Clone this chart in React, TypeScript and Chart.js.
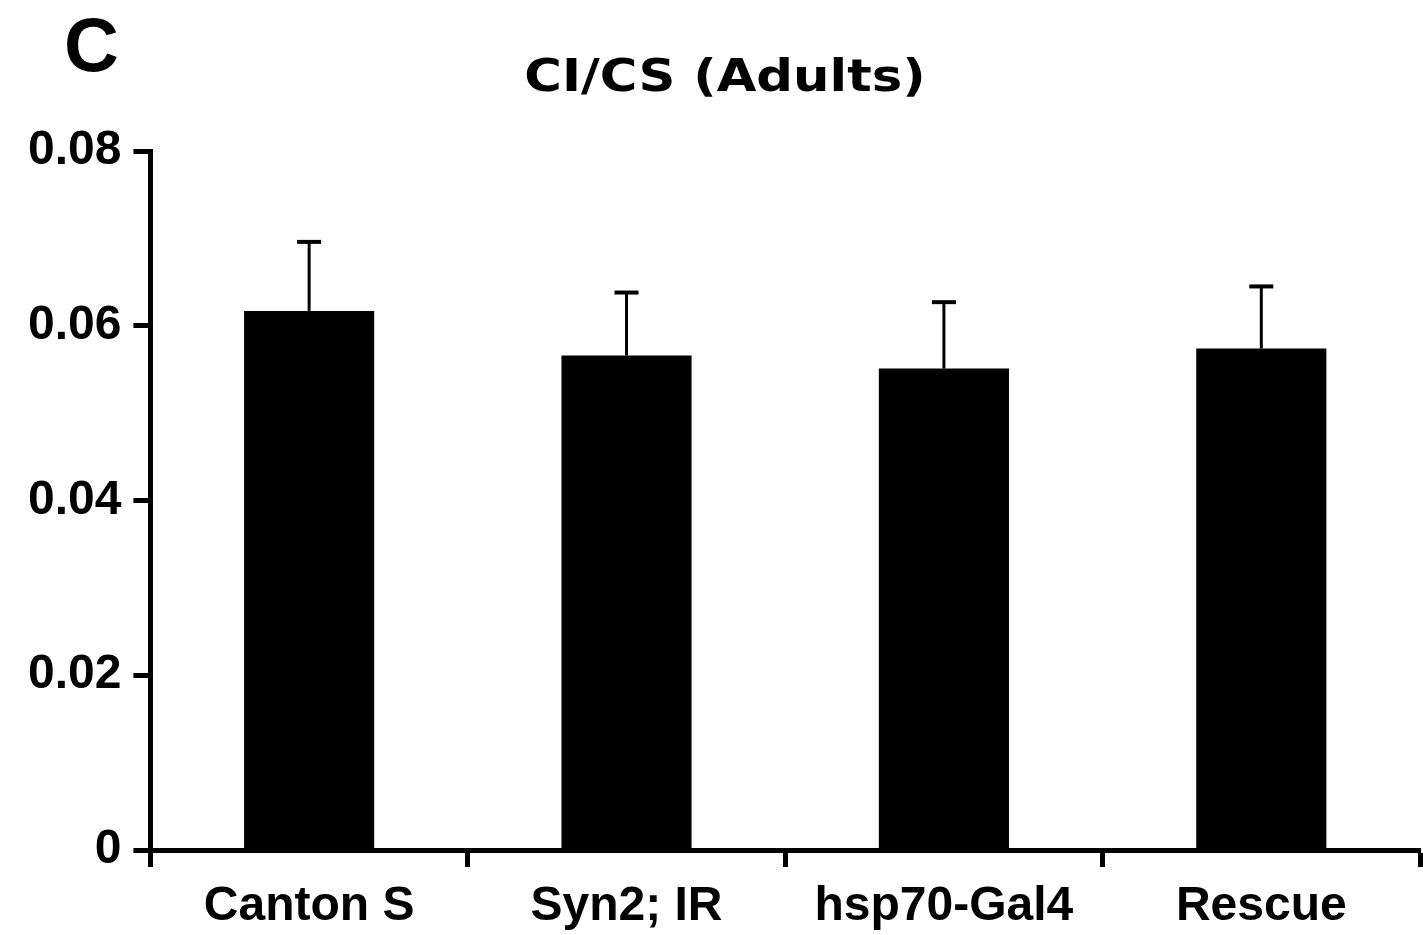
import React, { useEffect, useRef } from "react";
import { Chart, registerables } from "chart.js";

Chart.register(...registerables);

const categories = ["Canton S", "Syn2; IR", "hsp70-Gal4", "Rescue"];
const means = [0.0617, 0.0566, 0.0551, 0.0574];
const errorTops = [0.0696, 0.0638, 0.0627, 0.0645];
const yTickLabels = ["0", "0.02", "0.04", "0.06", "0.08"];
const titleText = "CI/CS (Adults)";
const panelLetter = "C";

const errorBarPlugin = {
  id: "errorBars",
  afterDatasetsDraw(chart: any) {
    const ctx = chart.ctx;
    const meta = chart.getDatasetMeta(0);
    const y = chart.scales.y;
    ctx.save();
    ctx.strokeStyle = "#000";
    meta.data.forEach((bar: any, i: number) => {
      const top = y.getPixelForValue(errorTops[i]);
      const base = y.getPixelForValue(means[i]);
      ctx.lineWidth = 3;
      ctx.beginPath();
      ctx.moveTo(bar.x, base);
      ctx.lineTo(bar.x, top);
      ctx.stroke();
      ctx.lineWidth = 4;
      ctx.beginPath();
      ctx.moveTo(bar.x - 12, top);
      ctx.lineTo(bar.x + 12, top);
      ctx.stroke();
    });
    ctx.restore();
  },
};

const textPlugin = {
  id: "panelText",
  afterDraw(chart: any) {
    const ctx = chart.ctx;
    ctx.save();
    ctx.fillStyle = "#000";
    ctx.textBaseline = "alphabetic";
    ctx.textAlign = "left";
    ctx.font = "bold 76px 'Liberation Sans', Arial, sans-serif";
    ctx.fillText(panelLetter, 64, 71);
    ctx.restore();
    ctx.save();
    ctx.fillStyle = "#000";
    ctx.textBaseline = "alphabetic";
    ctx.textAlign = "center";
    ctx.font = "bold 45px 'DejaVu Sans', Verdana, sans-serif";
    ctx.translate(725, 91);
    ctx.scale(1.14, 1);
    ctx.fillText(titleText, 0, 0);
    ctx.restore();
  },
};

export default function App() {
  const ref = useRef<HTMLCanvasElement | null>(null);
  useEffect(() => {
    document.body.style.margin = "0";
    if (!ref.current) return;
    const chart = new Chart(ref.current, {
      type: "bar",
      data: {
        labels: categories,
        datasets: [
          {
            data: means,
            backgroundColor: "#000",
            borderWidth: 0,
            barPercentage: 0.41,
            categoryPercentage: 1,
          },
        ],
      },
      options: {
        responsive: false,
        animation: false,
        layout: { padding: { top: 151, left: 16, right: 3, bottom: -12 } },
        plugins: { legend: { display: false }, tooltip: { enabled: false }, title: { display: false } },
        scales: {
          x: {
            offset: true,
            grid: {
              offset: true,
              drawOnChartArea: false,
              tickLength: 17,
              tickWidth: 5,
              tickColor: "#000",
            },
            border: { display: true, color: "#000", width: 5 },
            ticks: {
              color: "#000",
              padding: 16,
              font: { family: "'Liberation Sans', Arial, sans-serif", weight: "bold", size: 48, lineHeight: 1 },
              maxRotation: 0,
            },
          },
          y: {
            min: 0,
            max: 0.08,
            grid: {
              drawOnChartArea: false,
              tickLength: 17,
              tickWidth: 5,
              tickColor: "#000",
            },
            border: { display: true, color: "#000", width: 5 },
            ticks: {
              stepSize: 0.02,
              color: "#000",
              padding: 12,
              font: { family: "'Liberation Sans', Arial, sans-serif", weight: "bold", size: 48 },
              callback: (_v: any, i: number) => yTickLabels[i],
            },
          },
        },
      },
      plugins: [errorBarPlugin, textPlugin],
    });
    return () => chart.destroy();
  }, []);
  return <canvas ref={ref} width={1423} height={935} style={{ display: "block" }} />;
}
